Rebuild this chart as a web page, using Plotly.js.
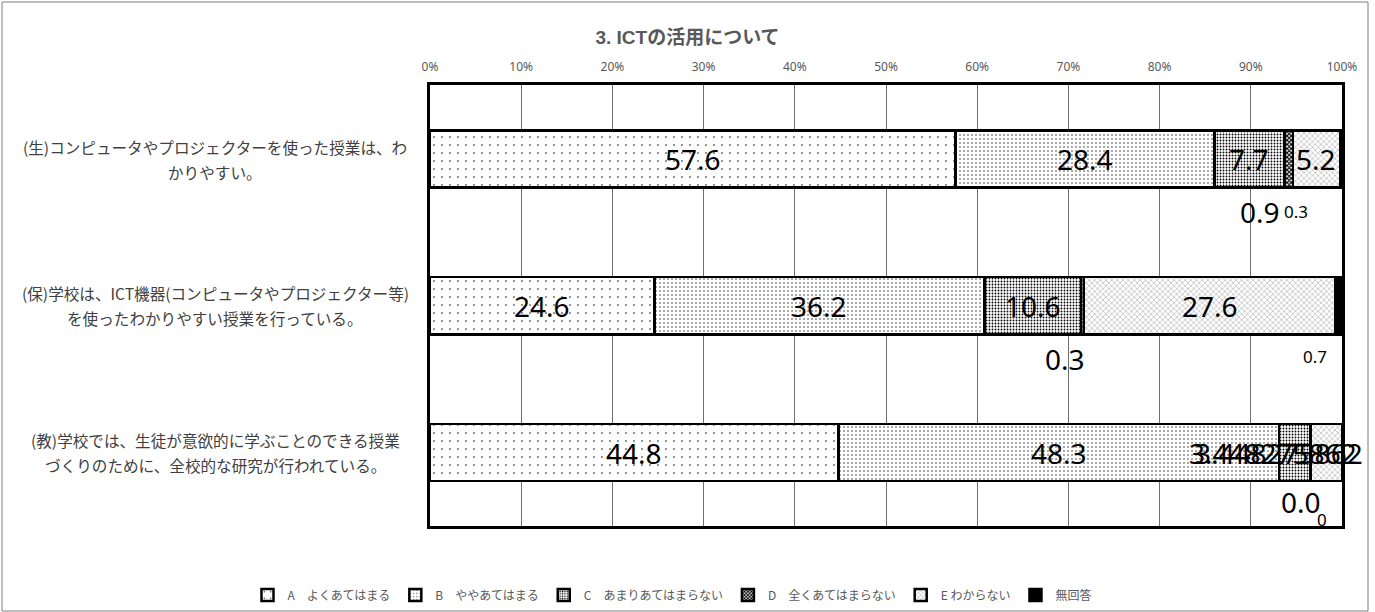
<!DOCTYPE html>
<html>
<head>
<meta charset="utf-8">
<script src="https://cdn.plot.ly/plotly-3.0.1.min.js"></script>
<style>
html,body{margin:0;padding:0;background:#fff;}
#chart{width:1375px;height:612px;}
</style>
</head>
<body>
<div id="chart"></div>
<script>
// ---- data ----
var chartTitle = '3. ICTの活用について';
var categories = [
  '(生)コンピュータやプロジェクターを使った授業は、わ<br>かりやすい。',
  '(保)学校は、ICT機器(コンピュータやプロジェクター等)<br>を使ったわかりやすい授業を行っている。',
  '(教)学校では、生徒が意欲的に学ぶことのできる授業<br>づくりのために、全校的な研究が行われている。'
];
var seriesNames = ['A\u3000よくあてはまる', 'B\u3000ややあてはまる', 'C\u3000あまりあてはまらない', 'D\u3000全くあてはまらない', 'E わからない', '無回答'];
var valuesA = [57.6, 24.6, 44.8];
var valuesB = [28.4, 36.2, 48.3];
var valuesC = [7.7, 10.6, 3.448275862];
var valuesD = [0.9, 0.3, 0.0];
var valuesE = [5.2, 27.6, 3.448275862];
var valuesN = [0.3, 0.7, 0];
var labelsA = ['57.6', '24.6', '44.8'];
var labelsB = ['28.4', '36.2', '48.3'];
var labelsC = ['7.7', '10.6', '3.448275862'];
var labelsD = ['0.9', '0.3', '0.0'];
var labelsE = ['5.2', '27.6', '3.448275862'];
var labelsN = ['0.3', '0.7', '0'];
var xTickVals = [0, 10, 20, 30, 40, 50, 60, 70, 80, 90, 100];
var xTickText = ['0%', '10%', '20%', '30%', '40%', '50%', '60%', '70%', '80%', '90%', '100%'];

// ---- styles ----
var allValues = [valuesA, valuesB, valuesC, valuesD, valuesE, valuesN];
var allLabels = [labelsA, labelsB, labelsC, labelsD, labelsE, labelsN];
var patterns = [
  {shape: '.', size: 8, solidity: 0.03, fgcolor: '#000', bgcolor: '#fff'},
  {shape: '.', size: 4, solidity: 0.08, fgcolor: '#000', bgcolor: '#fff'},
  {shape: '.', size: 3, solidity: 0.3, fgcolor: '#000', bgcolor: '#fff'},
  {shape: 'x', size: 3, solidity: 0.6, fgcolor: '#000', bgcolor: '#fff'},
  {shape: 'x', size: 4, solidity: 0.1, fgcolor: '#000', bgcolor: '#fff'},
  {shape: '', fgcolor: '#000', bgcolor: '#000'}
];
// per-label placement tweaks keyed "series,category"
var labelStyle = {
  '3,0': {dx: -29, dy: 53, size: 28},
  '5,0': {dx: -46, dy: 52, size: 17},
  '3,1': {dx: -18, dy: 53, size: 28},
  '5,1': {dx: -24, dy: 51, size: 17},
  '2,2': {dx: -102, dy: 0, size: 28, anchor: 'left'},
  '4,2': {dx: 33, dy: 0, size: 28, anchor: 'right'},
  '3,2': {dx: -10, dy: 49, size: 28},
  '5,2': {dx: -20, dy: 67, size: 17}
};

var traces = allValues.map(function (vals, s) {
  var pat = patterns[s];
  var marker = {line: {color: '#000', width: 2.5}};
  if (pat.shape) {
    marker.color = '#fff';
    marker.pattern = {shape: pat.shape, size: pat.size, solidity: pat.solidity, fgcolor: pat.fgcolor, bgcolor: pat.bgcolor, fillmode: 'replace'};
  } else {
    marker.color = pat.fgcolor;
  }
  return {
    type: 'bar', orientation: 'h', name: seriesNames[s],
    y: categories, x: vals, marker: marker, hoverinfo: 'skip'
  };
});

var annotations = [];
for (var c = 0; c < categories.length; c++) {
  var cum = 0;
  for (var s = 0; s < allValues.length; s++) {
    var v = allValues[s][c];
    var center = cum + v / 2;
    cum += v;
    var st = labelStyle[s + ',' + c] || {dx: 0, dy: 0, size: 28};
    annotations.push({
      x: center, y: categories[c], xref: 'x', yref: 'y',
      text: allLabels[s][c], showarrow: false,
      xanchor: st.anchor || 'center', yanchor: 'middle',
      xshift: st.dx, yshift: -st.dy,
      font: {family: 'Noto Sans, Open Sans, sans-serif', size: st.size, color: '#000'}
    });
  }
  var lines = categories[c].split('<br>');
  lines.forEach(function (ln, i) {
    annotations.push({
      x: -0.2357, xref: 'paper', y: categories[c], yref: 'y',
      text: ln, showarrow: false, xanchor: 'center', yanchor: 'middle',
      yshift: (lines.length - 1) * 12.5 - i * 25,
      font: {family: 'Noto Sans CJK JP, sans-serif', size: 15.6, color: '#404040'}
    });
  });
}

var layout = {
  width: 1375, height: 612,
  margin: {l: 430, r: 33, t: 85, b: 86, autoexpand: false},
  paper_bgcolor: '#fff', plot_bgcolor: '#fff',
  barmode: 'stack', bargap: 0.61,
  showlegend: true,
  title: {
    text: '<b>' + chartTitle + '</b>', x: 0.5, xref: 'container', xanchor: 'center',
    y: 1 - 37 / 612, yref: 'container', yanchor: 'middle',
    font: {family: 'Liberation Sans, Noto Sans CJK JP, sans-serif', size: 19, color: '#595959'}
  },
  xaxis: {
    side: 'top', range: [0, 100], tickvals: xTickVals, ticktext: xTickText,
    showgrid: true, gridcolor: '#6f6f6f', gridwidth: 1, zeroline: false,
    showline: true, mirror: true, linecolor: '#000', linewidth: 3,
    ticks: '', ticklabelstandoff: 6,
    tickfont: {family: 'Noto Sans, sans-serif', size: 12, color: '#595959'},
    fixedrange: true
  },
  yaxis: {
    type: 'category', autorange: 'reversed', showticklabels: false,
    showgrid: false, zeroline: false,
    showline: true, mirror: true, linecolor: '#000', linewidth: 3,
    ticks: '', fixedrange: true
  },
  legend: {
    orientation: 'h', xref: 'container', x: 672 / 1375, xanchor: 'center',
    yref: 'container', y: 1 - 595 / 612, yanchor: 'middle',
    bgcolor: 'rgba(0,0,0,0)',
    font: {family: 'Noto Sans CJK JP, sans-serif', size: 12, color: '#595959'},
    traceorder: 'normal', itemwidth: 30
  },
  annotations: annotations,
  shapes: [{
    type: 'rect', xref: 'paper', yref: 'paper',
    x0: (2 - 430) / 912, x1: (1368 - 430) / 912,
    y0: (526 - 611) / 441, y1: (526 - 2) / 441,
    line: {color: '#7f7f7f', width: 1}, fillcolor: 'rgba(0,0,0,0)', layer: 'below'
  }]
};

Plotly.newPlot('chart', traces, layout, {staticPlot: true, displayModeBar: false});
</script>
</body>
</html>
